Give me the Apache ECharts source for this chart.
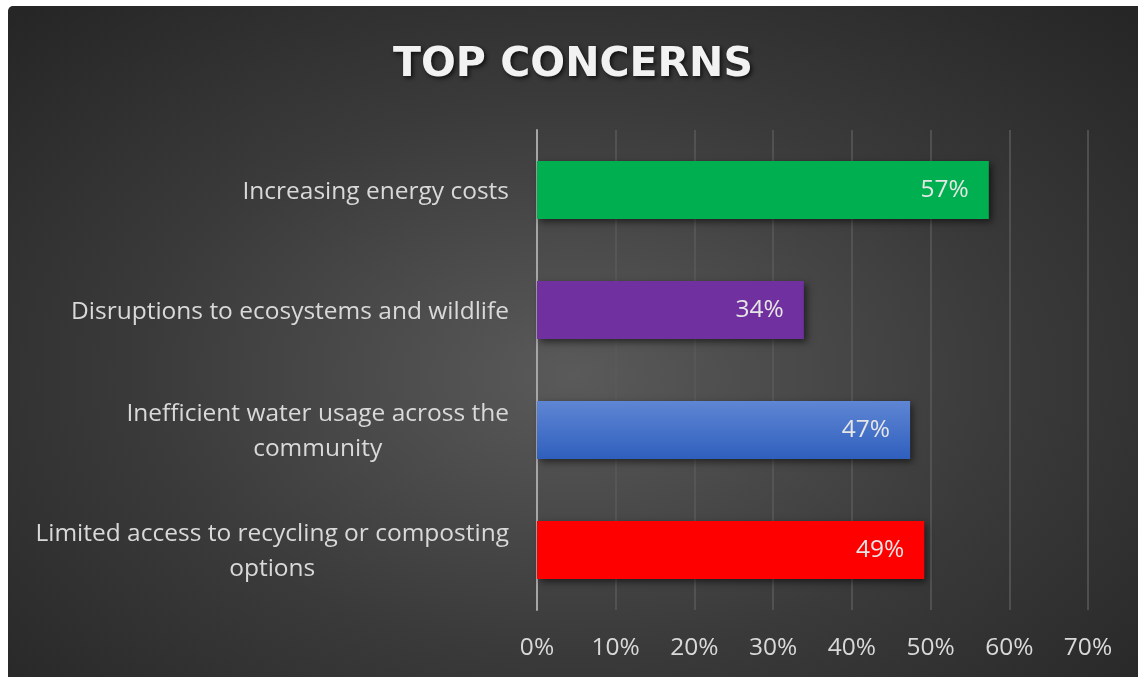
<!DOCTYPE html>
<html>
<head>
<meta charset="utf-8">
<script src="https://cdn.jsdelivr.net/npm/echarts@6/dist/echarts.min.js"></script>
<style>
html,body{margin:0;padding:0;background:#ffffff;width:1138px;height:677px;overflow:hidden;}
#chart{position:absolute;left:8px;top:6px;width:1130px;height:671px;border-top-left-radius:5px;
background:radial-gradient(ellipse 70% 75% at 50% 55%, #5a5a5a 0%, #3a3a3a 55%, #262626 100%);}
</style>
</head>
<body>
<div id="chart"></div>
<script>
const categories = [
  "Increasing energy costs",
  "Disruptions to ecosystems and wildlife",
  "Inefficient water usage across the\ncommunity",
  "Limited access to recycling or composting\noptions"
];
const values = [57.4, 33.9, 47.4, 49.2];
const barColors = ["#00b050", "#7030a0", "blue-gradient", "#ff0000"];
const xTicks = [0, 10, 20, 30, 40, 50, 60, 70];

const chart = echarts.init(document.getElementById('chart'), null, {renderer: 'canvas'});
const FONT = 'Open Sans';
const FS = 24.5;

function colorFor(c) {
  if (c === 'blue-gradient') {
    return new echarts.graphic.LinearGradient(0, 0, 0, 1, [
      {offset: 0, color: '#5f86d4'},
      {offset: 1, color: '#2f5fbd'}
    ]);
  }
  return c;
}

const option = {
  backgroundColor: 'transparent',
  animation: false,
  title: {
    text: 'TOP CONCERNS',
    left: 'center',
    top: 34,
    textStyle: {
      color: '#f2f2f2',
      fontFamily: 'DejaVu Sans',
      fontWeight: 'bold',
      fontSize: 41,
      textShadowColor: 'rgba(0,0,0,0.7)',
      textShadowBlur: 4,
      textShadowOffsetX: 2,
      textShadowOffsetY: 2
    }
  },
  grid: {left: 529, right: 50, top: 124, bottom: 67, containLabel: false},
  xAxis: {
    type: 'value',
    min: 0,
    max: 70,
    interval: 10,
    axisLine: {show: false},
    axisTick: {show: false},
    splitLine: {show: true, lineStyle: {color: '#5a5a5a', width: 1.5}},
    axisLabel: {
      color: '#d9d9d9',
      fontFamily: FONT,
      fontSize: FS,
      margin: 26,
      formatter: v => xTicks.includes(v) ? v + '%' : ''
    }
  },
  yAxis: {
    type: 'category',
    inverse: true,
    data: categories,
    axisLine: {show: true, lineStyle: {color: '#a6a6a6', width: 2}},
    axisTick: {show: false},
    splitLine: {show: false},
    axisLabel: {
      color: '#d9d9d9',
      fontFamily: FONT,
      fontSize: FS,
      margin: 28,
      lineHeight: 35,
      padding: [4, 0, 0, 0],
      formatter: v => v.split('\n').map(s => '{c|' + s + '}').join('\n'),
      rich: {c: {align: 'center', color: '#d9d9d9', fontFamily: FONT, fontSize: FS, lineHeight: 35}}
    }
  },
  series: [{
    type: 'bar',
    barWidth: 58,
    data: values.map((v, i) => ({
      value: v,
      itemStyle: {
        color: colorFor(barColors[i]),
        shadowColor: 'rgba(0,0,0,0.55)',
        shadowBlur: 7,
        shadowOffsetX: 3,
        shadowOffsetY: 3
      }
    })),
    label: {
      show: true,
      position: 'insideRight',
      distance: 20,
      color: '#e6e6e6',
      fontFamily: FONT,
      fontSize: FS,
      formatter: p => Math.round(p.value) + '%'
    }
  }]
};
chart.setOption(option);
</script>
</body>
</html>
